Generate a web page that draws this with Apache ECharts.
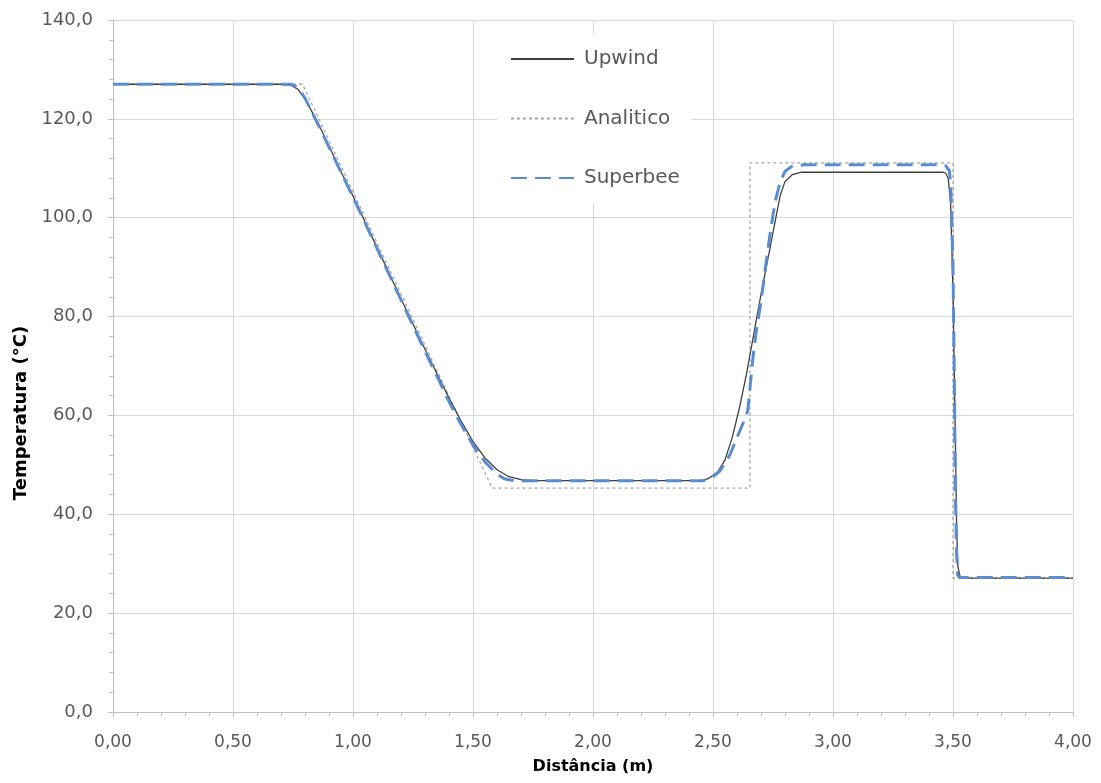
<!DOCTYPE html>
<html>
<head>
<meta charset="utf-8">
<script src="https://cdn.jsdelivr.net/npm/echarts@6/dist/echarts.min.js"></script>
<style>
html,body{margin:0;padding:0;background:#fff;}
#chart{width:1101px;height:783px;}
</style>
</head>
<body>
<div id="chart"></div>
<script>
// ---- Data ----
const upwindX = [0, 0.70, 0.74, 0.77, 0.80, 0.85, 0.90, 0.95, 1.00, 1.10, 1.20, 1.30, 1.40, 1.45, 1.50, 1.55, 1.60, 1.65, 1.70, 1.75, 2.45, 2.48, 2.52, 2.55, 2.58, 2.61, 2.64, 2.67, 2.70, 2.73, 2.76, 2.78, 2.80, 2.83, 2.87, 3.46, 3.47, 3.48, 3.49, 3.50, 3.51, 3.515, 3.52, 3.53, 3.55, 4.00];
const upwindY = [127.0, 127.0, 126.8, 126.0, 124.0, 119.6, 114.5, 109.3, 104.4, 94.0, 83.6, 73.4, 63.5, 58.9, 54.7, 51.4, 49.0, 47.6, 47.0, 46.8, 46.8, 47.2, 48.6, 51.0, 55.5, 61.5, 68.5, 76.5, 84.5, 92.0, 99.5, 104.5, 107.3, 108.7, 109.2, 109.2, 109.0, 108.0, 103.0, 85.0, 55.0, 38.0, 29.5, 27.3, 27.1, 27.1];

const analiticoX = [0, 0.79, 1.58, 2.654, 2.654, 3.50, 3.50, 4.00];
const analiticoY = [127.0, 127.0, 45.3, 45.3, 111.1, 111.1, 27.1, 27.1];

const superbeeX = [0, 0.74, 0.77, 0.80, 0.85, 0.90, 0.95, 1.00, 1.10, 1.20, 1.30, 1.40, 1.45, 1.50, 1.55, 1.60, 1.63, 1.66, 1.70, 2.46, 2.50, 2.53, 2.57, 2.60, 2.63, 2.645, 2.655, 2.665, 2.68, 2.70, 2.72, 2.74, 2.76, 2.78, 2.80, 2.83, 2.88, 3.45, 3.47, 3.485, 3.49, 3.50, 3.505, 3.51, 3.515, 3.52, 3.53, 4.00];
const superbeeY = [127.0, 127.0, 126.4, 124.2, 119.3, 114.3, 109.2, 104.2, 93.8, 83.4, 73.0, 62.8, 58.2, 54.0, 50.6, 48.1, 47.2, 46.9, 46.8, 46.8, 47.6, 48.8, 52.0, 55.5, 59.0, 61.0, 66.0, 71.0, 77.0, 83.0, 90.5, 97.5, 103.5, 107.2, 109.4, 110.4, 110.7, 110.7, 110.5, 109.5, 107.0, 90.0, 70.0, 45.0, 32.0, 27.6, 27.2, 27.2];

const seriesNames = ['Upwind', 'Analitico', 'Superbee'];
const xTitle = 'Distância (m)';
const yTitle = 'Temperatura (°C)';

const zip = (xs, ys) => xs.map((x, i) => [x, ys[i]]);

const labelColor = '#595959';
const axisColor = '#bfbfbf';
const gridColor = '#d9d9d9';
const font = "'DejaVu Sans', sans-serif";

const chart = echarts.init(document.getElementById('chart'), null, {renderer: 'canvas'});
chart.setOption({
  animation: false,
  backgroundColor: '#ffffff',
  grid: {left: 113, right: 28, top: 20, bottom: 71, containLabel: false},
  legend: {
    orient: 'vertical',
    left: 498,
    top: 34,
    padding: [15, 11, 15, 12],
    backgroundColor: '#ffffff',
    itemWidth: 63,
    itemHeight: 20,
    itemGap: 39.5,
    itemStyle: {opacity: 0},
    data: seriesNames,
    textStyle: {fontFamily: font, fontSize: 20, color: labelColor, padding: [0, 0, 0, 5], lineHeight: 20}
  },
  xAxis: {
    type: 'value',
    min: 0, max: 4, interval: 0.5,
    name: xTitle,
    nameLocation: 'middle',
    nameGap: 47,
    nameTextStyle: {fontFamily: font, fontSize: 16, fontWeight: 'bold', color: '#000'},
    axisLine: {show: true, onZero: false, lineStyle: {color: axisColor, width: 1}},
    axisTick: {show: true, length: 5, lineStyle: {color: axisColor}},
    minorTick: {show: true, splitNumber: 5, length: 4, lineStyle: {color: axisColor}},
    splitLine: {show: true, lineStyle: {color: gridColor, width: 1}},
    axisLabel: {fontFamily: font, fontSize: 17, color: labelColor, margin: 22,
      formatter: v => v.toFixed(2).replace('.', ',')}
  },
  yAxis: {
    type: 'value',
    min: 0, max: 140, interval: 20,
    name: yTitle,
    nameLocation: 'middle',
    nameGap: 81,
    nameRotate: 90,
    nameTextStyle: {fontFamily: font, fontSize: 18, fontWeight: 'bold', color: '#000', padding: [0, 94, 0, 0]},
    axisLine: {show: true, lineStyle: {color: axisColor, width: 1}},
    axisTick: {show: true, length: 5, lineStyle: {color: axisColor}},
    minorTick: {show: true, splitNumber: 5, length: 4, lineStyle: {color: axisColor}},
    splitLine: {show: true, lineStyle: {color: gridColor, width: 1}},
    axisLabel: {fontFamily: font, fontSize: 18, color: labelColor, margin: 20,
      formatter: v => v.toFixed(1).replace('.', ',')}
  },
  series: [
    {
      name: seriesNames[0], type: 'line', symbol: 'none', z: 3,
      data: zip(upwindX, upwindY),
      lineStyle: {color: '#404040', width: 1.3, type: 'solid'},
      itemStyle: {color: '#404040'}
    },
    {
      name: seriesNames[1], type: 'line', symbol: 'none', z: 2,
      data: zip(analiticoX, analiticoY),
      lineStyle: {color: '#a6a6a6', width: 1.3, type: [3, 3]},
      itemStyle: {color: '#a6a6a6'}
    },
    {
      name: seriesNames[2], type: 'line', symbol: 'none', z: 4,
      data: zip(superbeeX, superbeeY),
      lineStyle: {color: '#5b8ccf', width: 3, type: [16, 8]},
      itemStyle: {color: '#5b8ccf'}
    }
  ]
});
</script>
</body>
</html>
